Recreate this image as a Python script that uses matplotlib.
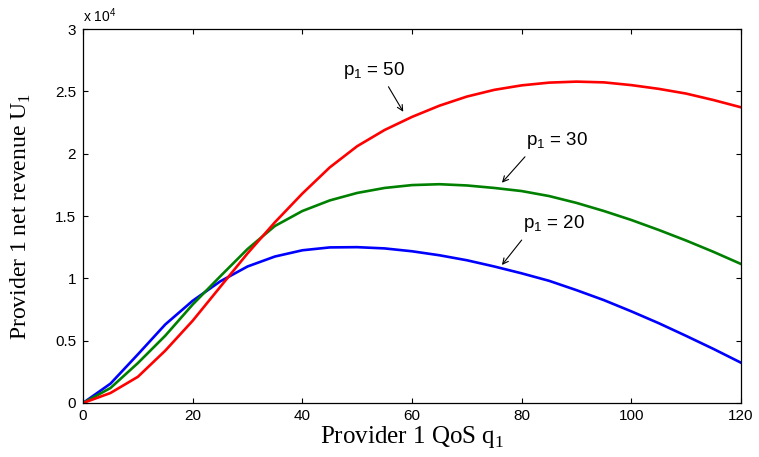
import matplotlib
matplotlib.use("Agg")
import matplotlib.pyplot as plt
from matplotlib.ticker import FuncFormatter

q = [0, 5, 10, 15, 20, 25, 30, 35, 40, 45, 50, 55, 60, 65, 70, 75, 80, 85, 90, 95, 100, 105, 110, 115, 120]
u_p20 = [0, 1550, 3900, 6300, 8200, 9750, 10950, 11750, 12250, 12480, 12500, 12400, 12170, 11850, 11450,
         10950, 10400, 9800, 9050, 8250, 7350, 6400, 5380, 4330, 3230]
u_p30 = [0, 1200, 3200, 5400, 7900, 10150, 12350, 14200, 15400, 16250, 16850, 17250, 17480, 17550, 17450,
         17250, 17000, 16600, 16050, 15400, 14680, 13880, 13030, 12120, 11150]
u_p50 = [0, 800, 2100, 4200, 6600, 9300, 12000, 14500, 16800, 18900, 20600, 21900, 22950, 23850, 24580,
         25120, 25480, 25700, 25780, 25720, 25500, 25200, 24820, 24300, 23720]
series_labels = ["20", "30", "50"]

plt.rcParams['font.family'] = ['Liberation Sans', 'DejaVu Sans']
fig = plt.figure(figsize=(7.59, 4.57), dpi=100)
ax = fig.add_axes([0.1094, 0.1182, 0.8669, 0.8183])

for y, c in ((u_p20, (0, 0, 1)), (u_p30, (0, 0.5, 0)), (u_p50, (1, 0, 0))):
    ax.plot(q, y, color=c, lw=1.9, solid_joinstyle='round')

ax.set_xlim(0, 120)
ax.set_ylim(0, 30000)
ax.set_xticks(range(0, 121, 20))
ax.set_yticks([0, 5000, 10000, 15000, 20000, 25000, 30000])
ax.yaxis.set_major_formatter(FuncFormatter(lambda v, p: ('%g' % (v / 1e4))))
ax.tick_params(direction='in', top=True, right=True, labelsize=11, length=3.5, width=0.8)
ax.tick_params(axis='y', pad=5)
ax.tick_params(axis='x', pad=4)
for s in ax.spines.values():
    s.set_linewidth(0.9)

ax.text(0.0, 1.012, r'x 10$^{\mathregular{4}}$', transform=ax.transAxes, fontsize=10, va='bottom', ha='left')

ax.set_xlabel(r'Provider 1 QoS q$_{\mathregular{1}}$', family='Liberation Serif', fontsize=18)
ax.xaxis.set_label_coords(0.5, -0.107)
ax.xaxis.label.set_verticalalignment('baseline')
ax.set_ylabel(r'Provider 1 net revenue U$_{\mathregular{1}}$', family='Liberation Serif', fontsize=17)
ax.yaxis.set_label_coords(-0.085, 0.5)
ax.yaxis.label.set_verticalalignment('baseline')

arrowprops = dict(arrowstyle='->', color='black', lw=0.8, shrinkA=0, shrinkB=0)
ax.text(47.5, 26300, r'p$_{\mathregular{1}}$ = ' + series_labels[2], fontsize=13.5, va='baseline', ha='left')
ax.annotate('', xy=(58.4, 23360), xytext=(55.7, 25370), arrowprops=arrowprops)
ax.text(80.8, 20700, r'p$_{\mathregular{1}}$ = ' + series_labels[1], fontsize=13.5, va='baseline', ha='left')
ax.annotate('', xy=(76.4, 17670), xytext=(80.6, 19750), arrowprops=arrowprops)
ax.text(80.2, 14000, r'p$_{\mathregular{1}}$ = ' + series_labels[0], fontsize=13.5, va='baseline', ha='left')
ax.annotate('', xy=(76.4, 11070), xytext=(80.0, 13070), arrowprops=arrowprops)

fig.savefig('out.png', dpi=100)
